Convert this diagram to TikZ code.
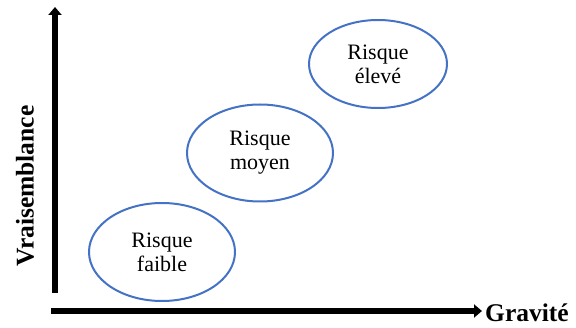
\documentclass[tikz,border=0pt]{standalone}
\usepackage{fontspec}
\setmainfont{Liberation Serif}
\usetikzlibrary{shapes.geometric,arrows.meta}
\definecolor{bordbleu}{HTML}{4472C4}

\begin{document}
\begin{tikzpicture}[x=1pt,y=1pt,
    risque/.style={ellipse,draw=bordbleu,line width=2pt,inner sep=0pt,
        align=center,font=\fontsize{22}{24}\selectfont},
    axe/.style={line width=5.5pt,-{Triangle[width=13pt,length=8pt]}},
    titre/.style={font=\fontsize{25.5}{28}\selectfont\bfseries}]
            \useasboundingbox (0,0) rectangle (576,327);
            % axes
            \coordinate (o1) at (55,34);
            \coordinate (hy) at (55,320);
            \coordinate (o2) at (51,16);
            \coordinate (hx) at (482,16);
            \draw[axe] (o1)--(hy);
            \draw[axe] (o2)--(hx);
            \node[titre,rotate=90] (vrai) at (25,141) {Vraisemblance};
            \node[titre,anchor=west,inner sep=0pt] (grav) at (485,14) {Gravit\'e};
            % niveaux de risque
            \node[risque,minimum width=146pt,minimum height=98pt] (faible) at (162,75) {Risque\\faible};
            \node[risque,minimum width=146pt,minimum height=97pt] (moyen) at (260,174) {Risque\\moyen};
            \node[risque,minimum width=138pt,minimum height=88pt] (eleve) at (378,263) {Risque\\\'elev\'e};
        \end{tikzpicture}
\end{document}
